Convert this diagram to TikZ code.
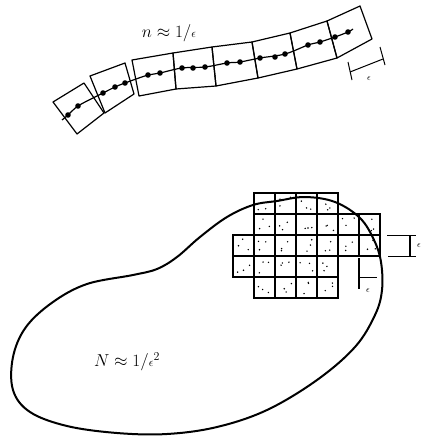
\documentclass[tikz,border=0pt]{standalone}
\begin{document}
\begin{tikzpicture}[x=1pt,y=-1pt,
  sq/.style={draw,line width=1.2pt,line join=round},
  cellbox/.style={draw,line width=1.3pt},
  blob/.style={draw,line width=2pt},
  dimline/.style={draw,line width=1pt},
  lbl/.style={font=\fontsize{17}{20}\selectfont,inner sep=0pt},
  small/.style={font=\fontsize{9}{10}\selectfont,inner sep=0pt}]
\useasboundingbox (0,0) rectangle (421,436);
\clip (0,0) rectangle (421,436);
% chain of cells
\foreach \a/\b/\c/\d in {
  {(53,102)}/{(84,83)}/{(104,113)}/{(77,134)},
  {(90,76)}/{(125,63)}/{(134,94)}/{(105,113)},
  {(132,60)}/{(173,53)}/{(176,89)}/{(139,96)},
  {(173,53)}/{(212,47)}/{(216,86)}/{(176,89)},
  {(212,47)}/{(252,42)}/{(258,78)}/{(216,86)},
  {(252,42)}/{(290,33)}/{(297,69)}/{(258,78)},
  {(290,33)}/{(327,21)}/{(337,58)}/{(297,69)},
  {(327,21)}/{(360,6)}/{(372,39)}/{(337,58)}}
  \draw[sq] \a -- \b -- \c -- \d -- cycle;
\draw[line width=1.2pt] plot[smooth,tension=0.6] coordinates {(62,120) (68,115) (78,106) (95,97) (103,93) (115,87) (125,83) (148,75) (160,73) (182,68) (205,67) (227,63) (240,62) (260,58) (285,54) (308,45) (320,42) (335,37) (348,32) (353,29)};
\foreach \p in {(68,115),(78,106),(103,93),(115,87),(125,83),(148,75),(160,73),(182,68),(193,68),(205,67),(227,63),(240,62),(260,58),(275,57),(285,54),(308,45),(320,42),(335,37),(348,32)}
  \fill \p circle (2.8);
\node[lbl] (n) at (169,33) {$n \approx 1/{\scriptstyle\epsilon}$};
% dimension on last cell
\coordinate (t1a) at (348,62); \coordinate (t1b) at (352,80);
\coordinate (t2a) at (380,47); \coordinate (t2b) at (385,65);
\coordinate (m1) at (350,72); \coordinate (m2) at (383,59);
\draw[dimline] (t1a) -- (t1b);
\draw[dimline] (t2a) -- (t2b);
\draw[dimline] (m1) -- (m2);
\node[small] (e1) at (369,79) {$\epsilon$};
% grid cells
\foreach \r/\c in {0/1,0/2,0/3,0/4,
                   1/1,1/2,1/3,1/4,1/5,1/6,
                   2/0,2/1,2/2,2/3,2/4,2/5,2/6,
                   3/0,3/1,3/2,3/3,3/4,
                   4/1,4/2,4/3,4/4}
  \draw[cellbox] (233+21*\c,193+21*\r) rectangle ++(21,21);
\pgfmathsetseed{12}
\foreach \r/\c in {0/1,0/2,0/3,0/4,
                   1/1,1/2,1/3,1/4,1/5,1/6,
                   2/0,2/1,2/2,2/3,2/4,2/5,2/6,
                   3/0,3/1,3/2,3/3,3/4,
                   4/1,4/2,4/3,4/4}
  \foreach \k in {1,2,3}{
    \pgfmathsetmacro\dx{4+13*rnd}
    \pgfmathsetmacro\dy{4+13*rnd}
    \fill (233+21*\c+\dx,193+21*\r+\dy) circle (0.8);
  }
% blob
\draw[blob] plot[smooth cycle,tension=0.6] coordinates {(277,201) (305,197) (335,202) (360,218) (374,240) (381,262) (382,290) (375,315) (355,347) (317,380) (267,410) (217,427) (167,434) (117,433) (67,426) (30,412) (13,390) (13,357) (26,327) (53,302) (87,284) (133,275) (157,269) (177,257) (200,237) (227,217) (253,205)};
\node[lbl,font=\fontsize{18}{21}\selectfont] (N) at (127,362) {$N \approx 1/{\scriptstyle\epsilon}^{2}$};
% dimension right of grid
\coordinate (r1) at (387,235); \coordinate (r2) at (416,235);
\coordinate (r3) at (388,256); \coordinate (r4) at (416,256);
\coordinate (rv1) at (410,235); \coordinate (rv2) at (410,256);
\draw[dimline] (r1) -- (r2);
\draw[dimline] (r3) -- (r4);
\draw[dimline,line width=1.3pt] (rv1) -- (rv2);
\node[small,anchor=west] (e2) at (417,246) {$\epsilon$};
% dimension below grid
\coordinate (b1) at (359,258); \coordinate (b2) at (359,289);
\coordinate (b0) at (359,277); \coordinate (b3) at (377,277);
\draw[dimline,line width=1.3pt] (b1) -- (b2);
\draw[dimline] (b0) -- (b3);
\node[small] (e3) at (368,291) {$\epsilon$};
\end{tikzpicture}
\end{document}
